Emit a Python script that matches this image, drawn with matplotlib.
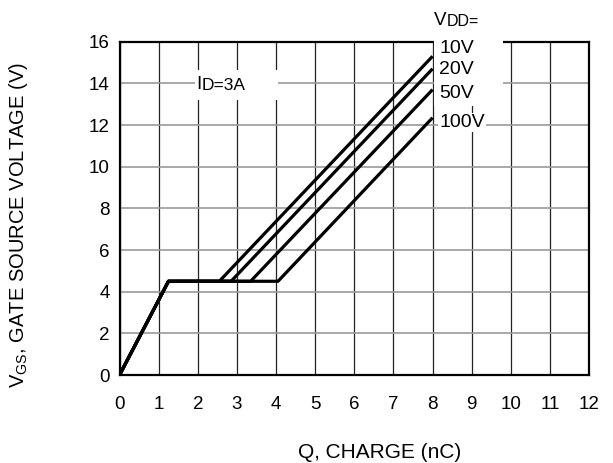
import matplotlib.pyplot as plt
from matplotlib.patches import Rectangle

plt.rcParams['font.family'] = ['Liberation Sans', 'DejaVu Sans']

# gate charge curves, one per VDD
vdd_labels = ['10V', '20V', '50V', '100V']
q_knee = 1.25          # end of initial rise (nC)
v_plateau = 4.5        # miller plateau (V)
q_plateau_end = [2.55, 2.85, 3.35, 4.05]
q_end = 8.0
v_end = [15.3, 14.7, 13.7, 12.35]

x_ticks = list(range(0, 13))
y_ticks = list(range(0, 17, 2))

fig = plt.figure(figsize=(6.13, 4.63), dpi=100)
ax = fig.add_axes([0.195, 0.19, 0.766, 0.72])

ax.set_xlim(0, 12)
ax.set_ylim(0, 16)
ax.set_xticks(x_ticks)
ax.set_yticks(y_ticks)
ax.tick_params(length=0, labelsize=13.5)
ax.tick_params(axis='x', pad=15)
ax.tick_params(axis='y', pad=7)
ax.xaxis.grid(True, color='#222222', lw=0.9)
ax.yaxis.grid(True, color='#9a9a9a', lw=1.2)
ax.set_axisbelow(True)
for s in ax.spines.values():
    s.set_linewidth(1.6)

for qp, ve in zip(q_plateau_end, v_end):
    ax.plot([0, q_knee, qp, q_end], [0, v_plateau, v_plateau, ve],
            color='black', lw=2.3, solid_capstyle='butt', zorder=3)

# white boxes for the labels that break the grid
ax.add_patch(Rectangle((8.04, 12.9), 1.76, 3.6, facecolor='white',
                       edgecolor='none', clip_on=False, zorder=4))
ax.add_patch(Rectangle((1.92, 13.2), 2.12, 1.45, facecolor='white',
                       edgecolor='none', zorder=2.5))

ax.text(1.97, 13.95, 'I', fontsize=13.5, va='center', ha='left', zorder=5)
ax.text(2.1, 13.9, 'D=3A', fontsize=12.5, va='center', ha='left', zorder=5)

label_y = [15.65, 14.68, 13.5, 12.12]
for lab, ly in zip(vdd_labels, label_y):
    ax.text(8.17, ly, lab, fontsize=14, va='center', ha='left', zorder=5,
            bbox=dict(facecolor='white', edgecolor='none', pad=1))
ax.text(8.03, 17.0, 'V', fontsize=13.5, va='center', ha='left', clip_on=False)
ax.text(8.35, 16.95, 'DD=', fontsize=11.5, va='center', ha='left', clip_on=False)

fig.text(380 / 613, 1 - 453 / 463, 'Q, CHARGE (nC)', fontsize=15,
         ha='center', va='center')
fig.text(19 / 613, 1 - 225 / 463, r'V$_{\mathregular{GS}}$, GATE SOURCE VOLTAGE (V)',
         fontsize=14.5, ha='center', va='center', rotation=90)

fig.savefig('out.png', dpi=100)
